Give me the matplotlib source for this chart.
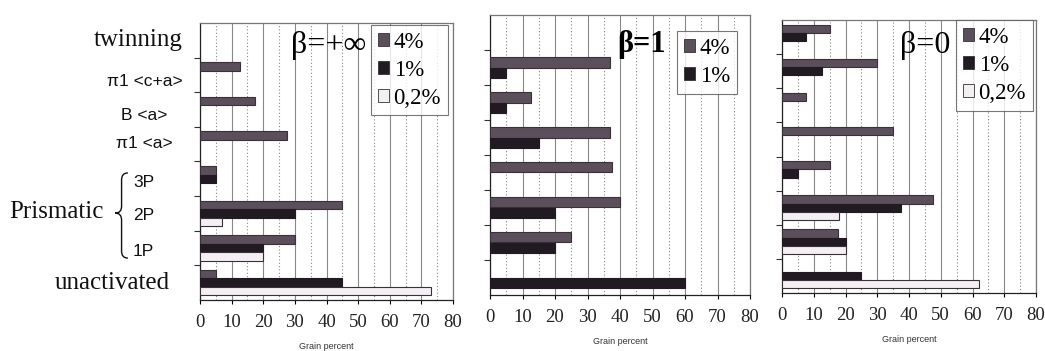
import numpy as np
import matplotlib
matplotlib.use("Agg")
import matplotlib.pyplot as plt
from matplotlib.patches import Patch, PathPatch
from matplotlib.path import Path
from matplotlib.transforms import blended_transform_factory

# categories, top to bottom
categories = ["twinning", "π1 <c+a>", "B <a>", "π1 <a>", "3P", "2P", "1P", "unactivated"]
x_ticks = [0, 10, 20, 30, 40, 50, 60, 70, 80]

# beta = +inf
inf_4 = [0, 12.5, 17.5, 27.5, 5, 45, 30, 5]
inf_1 = [0, 0, 0, 0, 5, 30, 20, 45]
inf_02 = [0, 0, 0, 0, 0, 7, 20, 73]

# beta = 1
one_4 = [0, 37, 12.5, 37, 37.5, 40, 25, 0]
one_1 = [0, 5, 5, 15, 0, 20, 20, 60]

# beta = 0
zero_4 = [15, 30, 7.5, 35, 15, 47.5, 17.5, 0]
zero_1 = [7.5, 12.5, 0, 0, 5, 37.5, 20, 25]
zero_02 = [0, 0, 0, 0, 0, 18, 20, 62]

SERIF = "Liberation Serif"
SANS = "Liberation Sans"
styles = {
    "4%": dict(color="#5a4f5a", edgecolor="#3a303a"),
    "1%": dict(color="#221a22", edgecolor="#221a22"),
    "0,2%": dict(color="#f3eff3", edgecolor="#3a303a"),
}

fig = plt.figure(figsize=(10.45, 3.51), dpi=100)
fig.patch.set_facecolor("white")

# axes boxes (pixels: left, top, right, bottom)
boxes = [(200, 23, 453, 300), (490, 15, 750, 295), (782, 20, 1036, 293)]
W, H = 1045, 351


def make_ax(box):
    l, t, r, b = box
    return fig.add_axes([l / W, (H - b) / H, (r - l) / W, (b - t) / H])


def draw_panel(ax, series, bar_h):
    n = len(series)
    for k, (name, vals) in enumerate(series):
        vals = np.array(vals, dtype=float)
        idx = np.where(vals > 0)[0]
        ys = idx + 0.5 + (k - (n - 1) / 2) * bar_h
        ax.barh(ys, vals[idx], height=bar_h, linewidth=0.8, zorder=3, **styles[name])
    ax.set_xlim(0, 80)
    ax.set_ylim(len(categories), 0)
    ax.set_xticks(x_ticks)
    ax.set_xticks(np.arange(5, 80, 10), minor=True)
    ax.set_yticks(np.arange(1, len(categories)))
    ax.set_yticklabels([])
    ax.grid(axis="x", which="major", color="#888888", linewidth=0.8, zorder=0)
    ax.grid(axis="x", which="minor", color="#888888", linewidth=0.8, linestyle=(0, (1, 2)), zorder=0)
    ax.tick_params(axis="y", direction="out", length=4, width=0.8, color="#333333")
    ax.tick_params(axis="x", which="major", direction="out", length=3, width=0.8, pad=7,
                   labelsize=13.5, labelcolor="#222222")
    ax.tick_params(axis="x", which="minor", length=0)
    for lab in ax.get_xticklabels():
        lab.set_fontfamily(SERIF)
    ax.set_xlabel("Grain percent", fontsize=6.5, fontfamily=SANS, labelpad=8, color="#333333")
    for s in ["top", "right"]:
        ax.spines[s].set_color("#777777")
    for s in ["left", "bottom"]:
        ax.spines[s].set_color("#222222")
    for s in ax.spines.values():
        s.set_linewidth(0.9)
    legend_handles = [Patch(facecolor=styles[name]["color"], edgecolor="#333333", linewidth=0.6,
                            label=name) for name, _ in series]
    return legend_handles


ax1 = make_ax(boxes[0])
h1 = draw_panel(ax1, [("4%", inf_4), ("1%", inf_1), ("0,2%", inf_02)], 0.245)
ax2 = make_ax(boxes[1])
h2 = draw_panel(ax2, [("4%", one_4), ("1%", one_1)], 0.3)
ax3 = make_ax(boxes[2])
h3 = draw_panel(ax3, [("4%", zero_4), ("1%", zero_1), ("0,2%", zero_02)], 0.245)

leg_kw = dict(loc="upper right", frameon=True, fancybox=False, handlelength=0.5, handleheight=0.5,
              handletextpad=0.2, labelspacing=0.3, borderpad=0.3, borderaxespad=0,
              prop={"family": SERIF, "size": 16.5})
for ax, hs, anchor in [(ax1, h1, (0.98, 0.993)), (ax2, h2, (0.95, 0.943)), (ax3, h3, (0.988, 1.0))]:
    leg = ax.legend(handles=hs, bbox_to_anchor=anchor, **leg_kw)
    leg.get_frame().set_edgecolor("#555555")
    leg.get_frame().set_linewidth(0.8)
    leg.set_zorder(5)

# panel titles
ax1.text(0.36, 0.92, "β=+∞", transform=ax1.transAxes, fontsize=23, fontfamily=SERIF,
         va="center", ha="left", zorder=6)
ax2.text(0.49, 0.893, "β=1", transform=ax2.transAxes, fontsize=22, fontfamily=SERIF,
         fontweight="bold", va="center", ha="left", zorder=6)
ax3.text(0.465, 0.908, "β=0", transform=ax3.transAxes, fontsize=23, fontfamily=SERIF,
         va="center", ha="left", zorder=6)

# left category labels
tr = blended_transform_factory(ax1.transAxes, ax1.transData)
label_y = [0.49, 1.7, 2.66, 3.49, 4.62, 5.55, 6.61, 7.51]
for name, y in zip(categories, label_y):
    if name in ("twinning", "unactivated"):
        x = -0.07 if name == "twinning" else -0.118
        ax1.text(x, y, name, transform=tr, fontsize=18, fontfamily=SERIF,
                 ha="right", va="center", color="#111111")
    elif name in ("3P", "2P", "1P"):
        ax1.text(-0.265, y, name, transform=tr, fontsize=12.5, fontfamily=SANS,
                 ha="left", va="center", color="#111111")
    else:
        ax1.text(-0.22, y, name, transform=tr, fontsize=12.5, fontfamily=SANS,
                 ha="center", va="center", color="#111111")

ax1.text(-0.38, 5.46, "Prismatic", transform=tr, fontsize=18, fontfamily=SERIF,
         ha="right", va="center", color="#111111")

# brace grouping 3P/2P/1P
tip, spine, mid_x = -0.285, -0.31, -0.335
top, mid, bot, d = 4.33, 5.49, 6.79, 0.2
verts = [(tip, top), (spine, top), (spine, top + d), (spine, mid - d),
         (spine, mid), (mid_x, mid), (spine, mid), (spine, mid + d),
         (spine, bot - d), (spine, bot), (tip, bot)]
codes = [Path.MOVETO, Path.CURVE3, Path.CURVE3, Path.LINETO,
         Path.CURVE3, Path.CURVE3, Path.CURVE3, Path.CURVE3,
         Path.LINETO, Path.CURVE3, Path.CURVE3]
ax1.add_patch(PathPatch(Path(verts, codes), transform=tr, facecolor="none",
                        edgecolor="#111111", linewidth=1.0, clip_on=False))

fig.savefig("out.png", dpi=100, facecolor="white")
